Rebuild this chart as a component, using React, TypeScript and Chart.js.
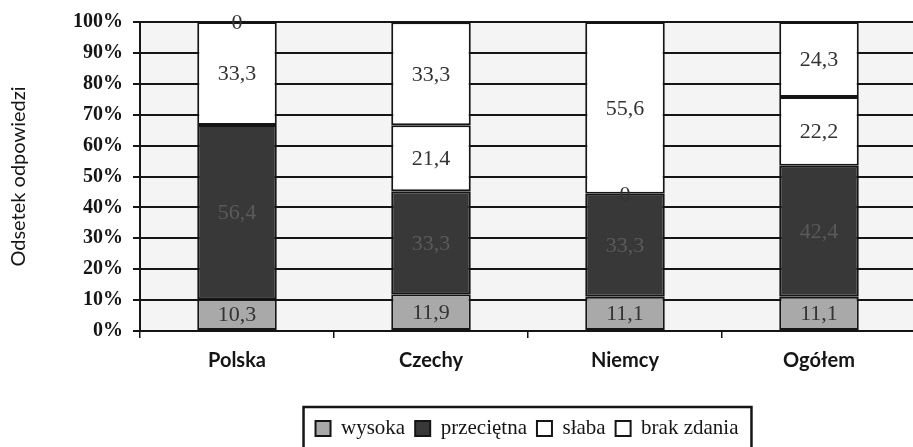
import React, { useEffect, useRef } from 'react';
import { Chart, registerables } from 'chart.js';

Chart.register(...registerables);

// ---- data ----
const categories = ['Polska', 'Czechy', 'Niemcy', 'Ogółem'];
const seriesNames = ['wysoka', 'przeciętna', 'słaba', 'brak zdania'];
const wysoka = [10.3, 11.9, 11.1, 11.1];
const przecietna = [56.4, 33.3, 33.3, 42.4];
const slaba = [33.3, 21.4, 0, 22.2];
const brakZdania = [0, 33.3, 55.6, 24.3];
const yAxisTitle = 'Odsetek odpowiedzi';

// ---- layout / style constants ----
const CANVAS_W = 960;
const CANVAS_H = 447;
const PLOT_LEFT = 140;
const PLOT_BOTTOM = 331;
const LEGEND_CX = 527;
const LEGEND_TOP = 408;
const INK = '#151515';
const SERIF = "'Liberation Serif', 'Times New Roman', serif";
const SANS = "Lato, 'DejaVu Sans', sans-serif";

const fillColors = ['#a9a9a9', '#383838', '#ffffff', '#ffffff'];
const labelColors = ['#333333', '#5a5a5a', '#333333', '#333333'];

const fmt = (v: number) => (v === 0 ? '0' : v.toFixed(1).replace('.', ','));

const bgPlugin = {
  id: 'bgPlugin',
  beforeDraw(chart: any) {
    const { ctx, chartArea } = chart;
    ctx.save();
    ctx.fillStyle = '#ffffff';
    ctx.fillRect(0, 0, chart.width, chart.height);
    ctx.fillStyle = '#f4f4f4';
    ctx.fillRect(chartArea.left, chartArea.top, chartArea.right - chartArea.left, chartArea.bottom - chartArea.top);
    ctx.restore();
  },
};

const legendPlacePlugin = {
  id: 'legendPlace',
  afterLayout(chart: any) {
    const lg = chart.legend;
    if (!lg) return;
    const w = lg.right - lg.left;
    const h = lg.bottom - lg.top;
    lg.left = LEGEND_CX - w / 2;
    lg.right = lg.left + w;
    lg.top = LEGEND_TOP;
    lg.bottom = LEGEND_TOP + h;
  },
  afterDraw(chart: any) {
    const lg = chart.legend;
    if (!lg || !lg.lineWidths) return;
    const pad = lg.options.labels.padding;
    const lw = lg.lineWidths[0];
    const start = (lg.left + pad + lg.right - lw) / 2;
    const end = start + lw - pad;
    const ctx = chart.ctx;
    ctx.save();
    ctx.strokeStyle = INK;
    ctx.lineWidth = 2.5;
    ctx.strokeRect(start - 12, LEGEND_TOP - 1, end - start + 25, 80);
    ctx.restore();
  },
};

const valueLabelPlugin = {
  id: 'valueLabels',
  afterDatasetsDraw(chart: any) {
    const ctx = chart.ctx;
    ctx.save();
    ctx.font = `22px ${SERIF}`;
    ctx.textAlign = 'center';
    ctx.textBaseline = 'middle';
    chart.data.datasets.forEach((ds: any, di: number) => {
      const meta = chart.getDatasetMeta(di);
      meta.data.forEach((el: any, i: number) => {
        const v = ds.data[i];
        const y = (el.y + el.base) / 2;
        ctx.fillStyle = labelColors[di];
        ctx.fillText(fmt(v), el.x, y + 1);
      });
    });
    ctx.restore();
  },
};

export default function App() {
  const ref = useRef<HTMLCanvasElement | null>(null);

  useEffect(() => {
    if (!ref.current) return;
    const series = [wysoka, przecietna, slaba, brakZdania];
    const chart = new Chart(ref.current, {
      type: 'bar',
      data: {
        labels: categories,
        datasets: series.map((d, i) => ({
          label: seriesNames[i],
          data: d,
          backgroundColor: fillColors[i],
          borderColor: INK,
          borderWidth: 2,
          borderSkipped: false,
          barPercentage: 1,
          categoryPercentage: 0.41,
        })),
      },
      options: {
        responsive: false,
        animation: false,
        devicePixelRatio: 1,
        layout: { padding: { top: 20, left: 0, right: CANVAS_W - 916, bottom: 0 } },
        plugins: {
          tooltip: { enabled: false },
          legend: {
            display: true,
            position: 'bottom',
            labels: {
              boxWidth: 15,
              boxHeight: 15,
              padding: 10,
              color: INK,
              font: { family: SERIF, size: 21 },
            },
          },
        },
        scales: {
          x: {
            stacked: true,
            grid: {
              display: true,
              drawOnChartArea: false,
              drawTicks: true,
              tickLength: 7,
              color: INK,
              lineWidth: 1.5,
            },
            border: { display: true, color: INK, width: 2 },
            ticks: {
              color: INK,
              padding: 11,
              font: { family: SANS, size: 20, weight: 'bold' },
            },
            afterFit: (s: any) => {
              const lh = s.chart.legend ? s.chart.legend.height : 0;
              s.height = CANVAS_H - PLOT_BOTTOM - lh;
            },
          },
          y: {
            stacked: true,
            min: 0,
            max: 100,
            ticks: {
              stepSize: 10,
              color: INK,
              padding: 10,
              font: { family: SERIF, size: 20, weight: 'bold' },
              callback: (v: any) => `${v}%`,
            },
            grid: {
              display: true,
              drawTicks: true,
              tickLength: 7,
              color: INK,
              lineWidth: 2,
            },
            border: { display: true, color: INK, width: 2 },
            title: {
              display: true,
              text: yAxisTitle,
              color: INK,
              font: { family: SANS, size: 20 },
              padding: { top: 7, bottom: 0 },
            },
            afterFit: (s: any) => {
              s.width = PLOT_LEFT;
            },
          },
        },
      },
      plugins: [bgPlugin, legendPlacePlugin, valueLabelPlugin],
    } as any);
    return () => chart.destroy();
  }, []);

  return (
    <div
      style={{
        position: 'fixed',
        left: 0,
        top: 0,
        width: 913,
        height: 447,
        overflow: 'hidden',
        background: '#fff',
      }}
    >
      <canvas ref={ref} width={CANVAS_W} height={CANVAS_H} style={{ display: 'block' }} />
    </div>
  );
}
